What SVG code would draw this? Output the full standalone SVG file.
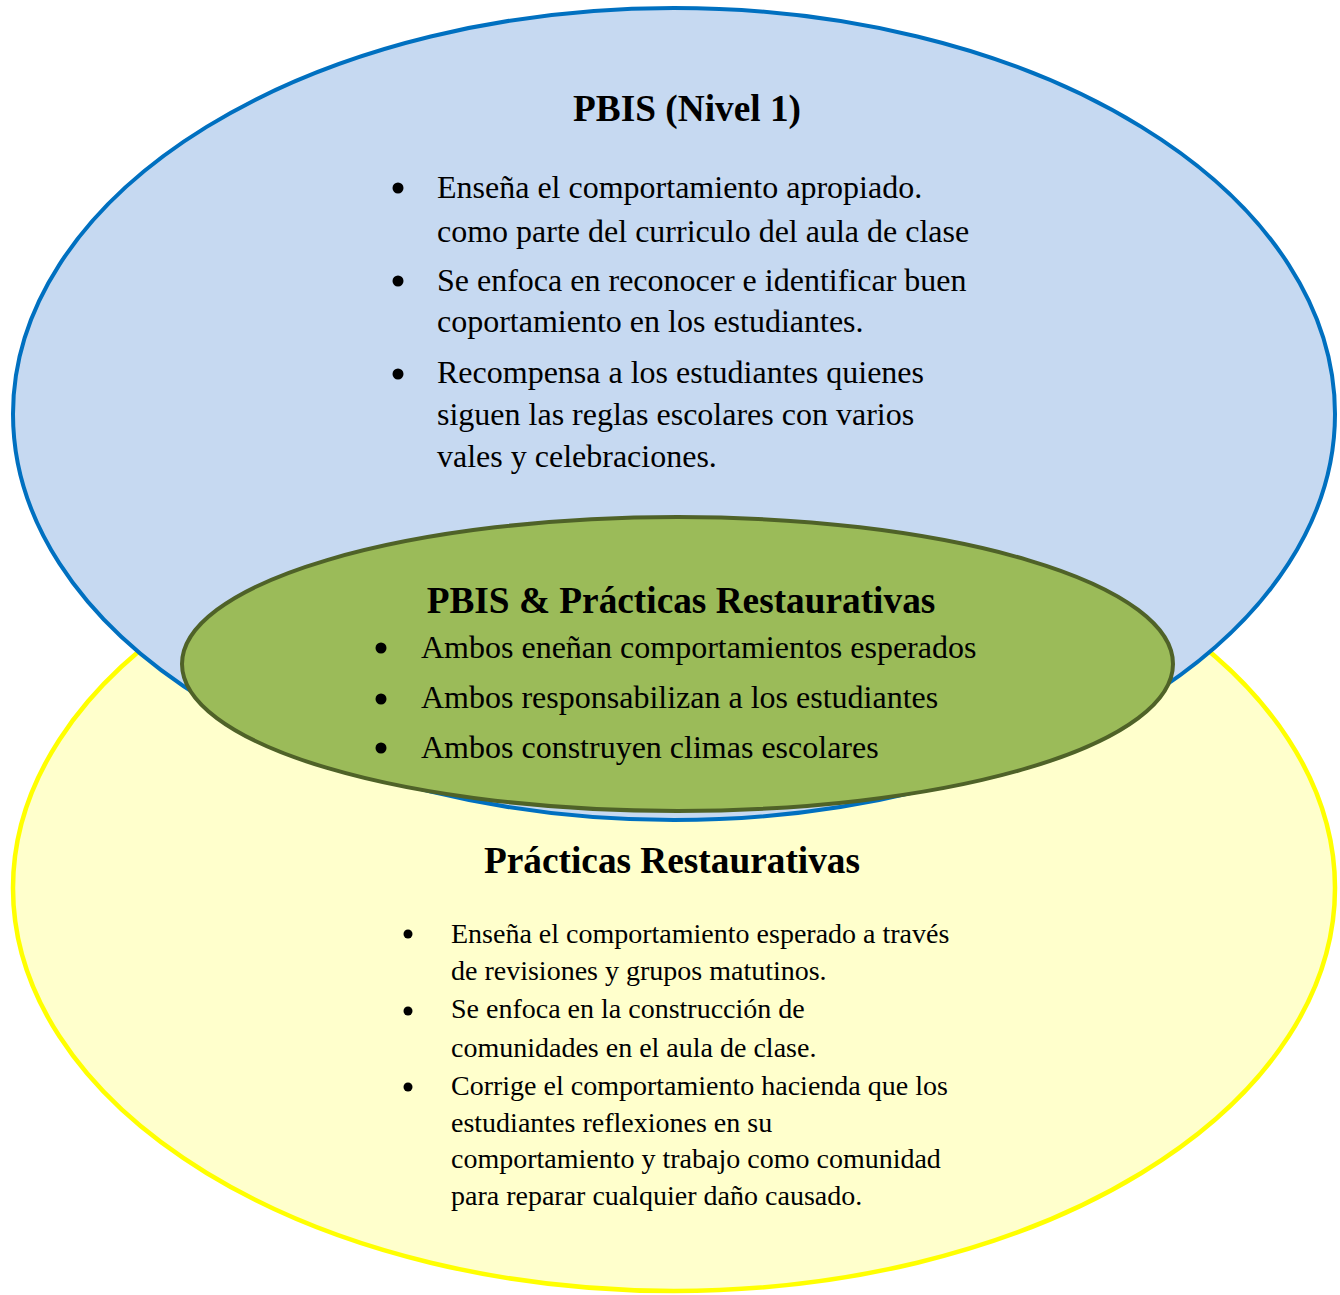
<svg xmlns="http://www.w3.org/2000/svg" width="1340" height="1295" viewBox="0 0 1340 1295">
<style>
.title{font-family:"Liberation Serif","Times New Roman",serif;font-weight:bold;font-size:37.3px;fill:#000;text-anchor:middle}
.body{font-family:"Liberation Serif","Times New Roman",serif;font-size:32px;fill:#000}
.small{font-family:"Liberation Serif","Times New Roman",serif;font-size:28px;fill:#000}
.bullet{fill:#000}
</style>
<rect width="1340" height="1295" fill="#ffffff"/>
<g id="practicas">
<ellipse cx="674" cy="888" rx="661" ry="403" fill="#ffffcc" stroke="#ffff00" stroke-width="4.5"/>
</g>
<g id="pbis">
<ellipse cx="674" cy="414" rx="661" ry="406" fill="#c6d9f1" stroke="#0070c0" stroke-width="4"/>
<text class="title" x="687" y="121">PBIS (Nivel 1)</text>
<circle class="bullet" cx="398" cy="188" r="5.5"/>
<circle class="bullet" cx="398" cy="281" r="5.5"/>
<circle class="bullet" cx="398" cy="374" r="5.5"/>
<text class="body" x="437" y="198">Enseña el comportamiento apropiado.</text>
<text class="body" x="437" y="242">como parte del curriculo del aula de clase</text>
<text class="body" x="437" y="291">Se enfoca en reconocer e identificar buen</text>
<text class="body" x="437" y="332">coportamiento en los estudiantes.</text>
<text class="body" x="437" y="383">Recompensa a los estudiantes quienes</text>
<text class="body" x="437" y="425">siguen las reglas escolares con varios</text>
<text class="body" x="437" y="467">vales y celebraciones.</text>
</g>
<g id="practicas-text">
<text class="title" x="672" y="873">Prácticas Restaurativas</text>
<circle class="bullet" cx="408" cy="934" r="4.5"/>
<circle class="bullet" cx="408" cy="1011" r="4.5"/>
<circle class="bullet" cx="408" cy="1087" r="4.5"/>
<text class="small" x="451" y="943">Enseña el comportamiento esperado a través</text>
<text class="small" x="451" y="980">de revisiones y grupos matutinos.</text>
<text class="small" x="451" y="1018">Se enfoca en la construcción de</text>
<text class="small" x="451" y="1057">comunidades en el aula de clase.</text>
<text class="small" x="451" y="1095">Corrige el comportamiento hacienda que los</text>
<text class="small" x="451" y="1132">estudiantes reflexiones en su</text>
<text class="small" x="451" y="1168">comportamiento y trabajo como comunidad</text>
<text class="small" x="451" y="1205">para reparar cualquier daño causado.</text>
</g>
<g id="ambos">
<ellipse cx="677.5" cy="664" rx="495.5" ry="147" fill="#9bbb59" stroke="#4f6228" stroke-width="4"/>
<text class="title" x="681" y="613">PBIS &amp; Prácticas Restaurativas</text>
<circle class="bullet" cx="381" cy="648" r="5.5"/>
<circle class="bullet" cx="381" cy="699" r="5.5"/>
<circle class="bullet" cx="381" cy="748" r="5.5"/>
<text class="body" x="421" y="658">Ambos eneñan comportamientos esperados</text>
<text class="body" x="421" y="708">Ambos responsabilizan a los estudiantes</text>
<text class="body" x="421" y="758">Ambos construyen climas escolares</text>
</g>
<g id="connectors"></g>
</svg>
